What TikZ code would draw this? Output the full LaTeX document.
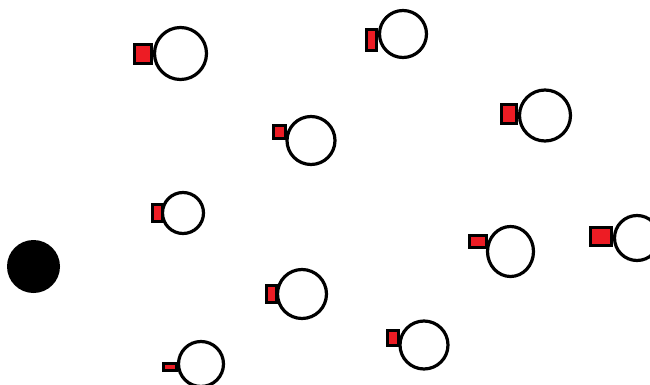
\documentclass[tikz,border=0pt]{standalone}
\usetikzlibrary{shapes.geometric}
\definecolor{paintred}{RGB}{237,28,36}
\tikzset{
  bulb/.style={circle, draw=black, fill=white, line width=3.2pt, inner sep=0pt, minimum size=#1},
  ovalbulb/.style 2 args={ellipse, draw=black, fill=white, line width=3.2pt, inner sep=0pt, minimum width=#1, minimum height=#2},
  plug/.style 2 args={rectangle, draw=black, fill=paintred, line width=3pt, inner sep=0pt, minimum width=#1, minimum height=#2},
  dot/.style={circle, fill=black, inner sep=0pt, minimum size=#1}
}
\begin{document}
\begin{tikzpicture}[x=1pt,y=-1pt]
\useasboundingbox (0,0) rectangle (650,385);
\fill[white] (0,0) rectangle (650,385);
% black dot
\node[dot=53pt] (d) at (33.5,266.5) {};
% bulbs
\node[bulb=52pt] (c1) at (180.5,53.5) {};
\node[plug={17pt}{19pt}] (r1) at (143,54) {};
\node[bulb=47pt] (c2) at (403,34) {};
\node[plug={10pt}{21pt}] (r2) at (371.5,40) {};
\node[bulb=45pt] (c4) at (637,238) {};
\node[plug={21pt}{18pt}] (r4) at (601,236.5) {};
\node[bulb=45pt] (c5) at (201,364) {};
\node[plug={13pt}{7pt}] (r5) at (170,367) {};
\node[bulb=48pt] (c6) at (311,140.5) {};
\node[plug={12pt}{13pt}] (r6) at (279.5,132) {};
\node[bulb=51pt] (c7) at (545,115.5) {};
\node[plug={15pt}{19pt}] (r7) at (509,114) {};
\node[bulb=41pt] (c8) at (183,213) {};
\node[plug={10pt}{17pt}] (r8) at (157.5,213) {};
\node[ovalbulb={46pt}{50pt}] (c9) at (510.5,251.5) {};
\node[plug={17pt}{12pt}] (r9) at (478,241.5) {};
\node[bulb=49pt] (c10) at (302,294) {};
\node[plug={10pt}{17pt}] (r10) at (271.5,294) {};
\node[bulb=48pt] (c11) at (424,345) {};
\node[plug={11pt}{15pt}] (r11) at (393,338) {};
\end{tikzpicture}
\end{document}
